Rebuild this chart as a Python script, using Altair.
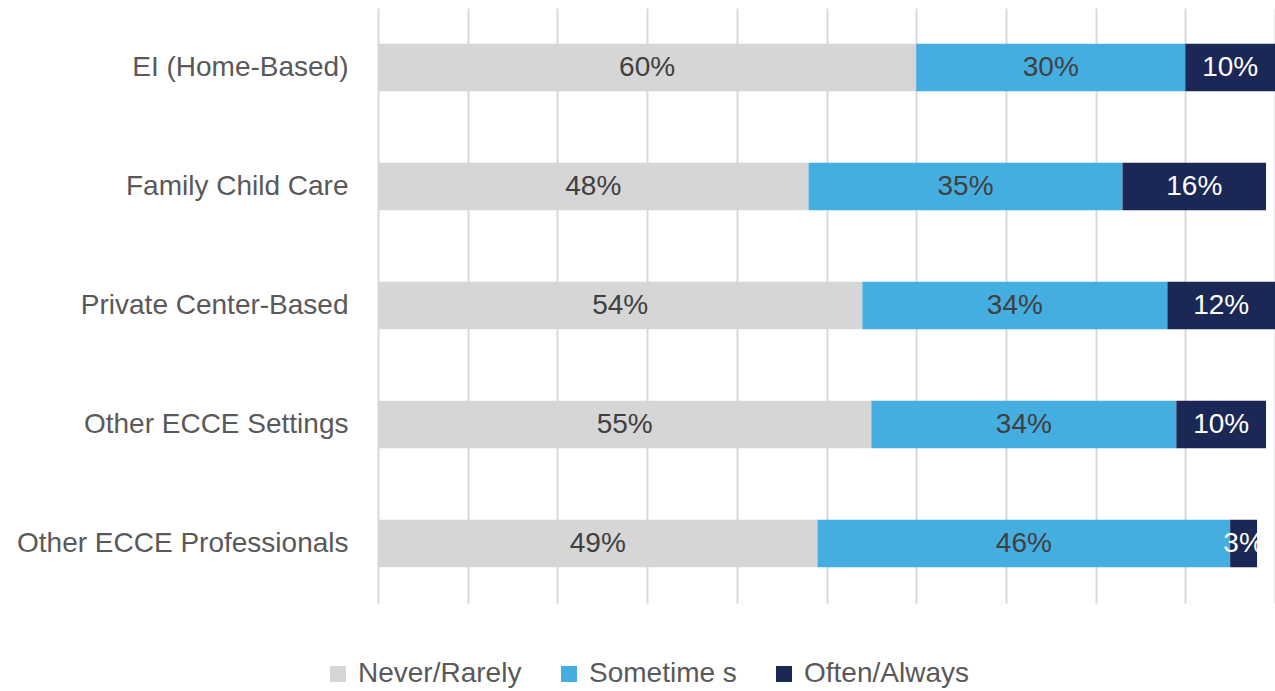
import altair as alt
import pandas as pd

categories = ["EI (Home-Based)", "Family Child Care", "Private Center-Based",
              "Other ECCE Settings", "Other ECCE Professionals"]
responses = ["Never/Rarely", "Sometime s", "Often/Always"]
never = [60, 48, 54, 55, 49]
sometimes = [30, 35, 34, 34, 46]
often = [10, 16, 12, 10, 3]
colors = ["#D6D6D6", "#45AEE0", "#1B2856"]
text_colors = ["#404040", "#404040", "#FFFFFF"]

FONT = "Liberation Sans"
FS = 28

rows = []
for i, c in enumerate(categories):
    for j, (r, vals) in enumerate(zip(responses, [never, sometimes, often])):
        rows.append({"cat": c, "resp": r, "val": vals[i], "ord": j,
                     "label": f"{vals[i]}%", "tc": text_colors[j]})
df = pd.DataFrame(rows)

base = alt.Chart(df).transform_stack(
    stack="val", groupby=["cat"], as_=["x0", "x1"], sort=[alt.SortField("ord")]
).transform_calculate(mid="(datum.x0 + datum.x1) / 2")

y_enc = alt.Y("cat:N", sort=categories,
              scale=alt.Scale(paddingInner=0.6, paddingOuter=0.3),
              axis=alt.Axis(title=None, domain=False, ticks=False, labelFontSize=FS,
                            labelColor="#595959", labelPadding=30, labelFont=FONT,
                            labelLimit=0))

bars = base.mark_bar().encode(
    y=y_enc,
    x=alt.X("x0:Q", scale=alt.Scale(domain=[0, 100], nice=False),
            axis=alt.Axis(values=list(range(0, 101, 10)), labels=False, ticks=False,
                          domain=False, grid=True, gridColor="#D9D9D9", gridWidth=2,
                          title=None)),
    x2="x1:Q",
    color=alt.Color("resp:N", scale=alt.Scale(domain=responses, range=colors),
                    legend=alt.Legend(title=None, orient="none", direction="horizontal",
                                      legendX=-54, legendY=652, symbolType="square",
                                      symbolSize=256, symbolStrokeWidth=0,
                                      labelFontSize=FS, labelFont=FONT,
                                      labelColor="#595959", columnPadding=33,
                                      labelOffset=6, labelLimit=0)),
    order=alt.Order("ord:Q"),
)

text = base.mark_text(fontSize=FS, font=FONT).encode(
    y=alt.Y("cat:N", sort=categories),
    x=alt.X("mid:Q"),
    text="label:N",
    color=alt.Color("tc:N", scale=None),
)

chart = alt.layer(bars, text).properties(
    width=897, height=595,
    autosize=alt.AutoSizeParams(type="none"),
    padding={"left": 378, "top": 8, "right": 0, "bottom": 88},
).configure_view(stroke=None)

chart.save("out.html", embed_options={"renderer": "svg", "actions": False})
